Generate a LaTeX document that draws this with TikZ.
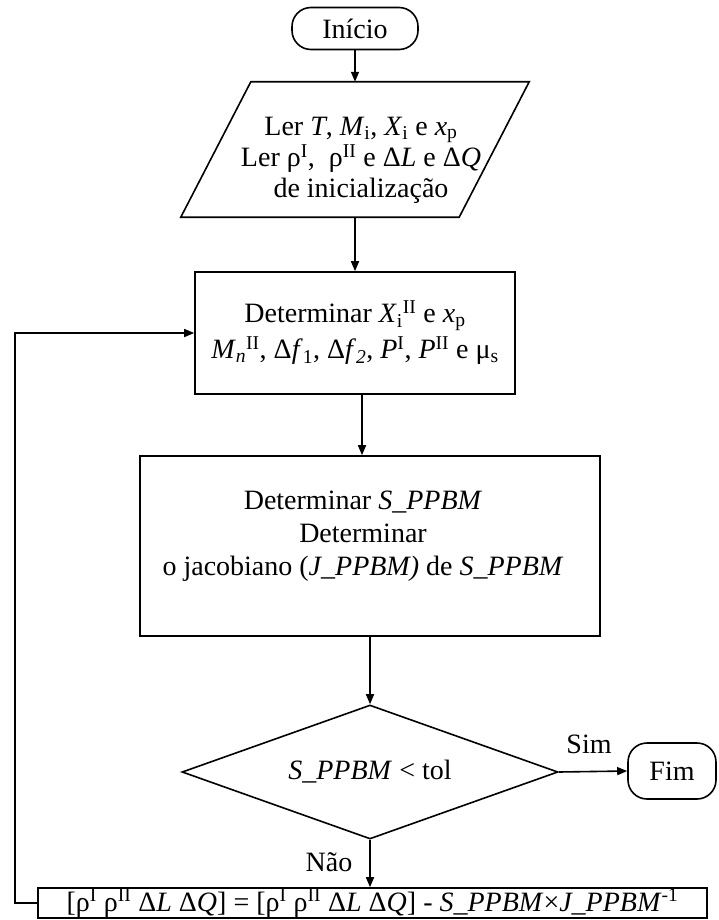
\documentclass[tikz,border=0pt]{standalone}
\usepackage{fontspec}
\setmainfont{Liberation Serif}
\usetikzlibrary{arrows.meta,shapes.geometric}

% text size used throughout the flowchart
\newcommand\flowfont{\fontsize{28}{34}\selectfont}

\tikzset{
  outline/.style={draw, line width=1.6pt},
  stepbox/.style={outline, rectangle, align=center, inner sep=0pt, font=\flowfont},
  terminal/.style={outline, rectangle, rounded corners=19pt, align=center, inner sep=0pt, font=\flowfont},
  decision/.style={outline, diamond, aspect=2.8, inner sep=0pt, font=\flowfont},
  flowarrow/.style={line width=1.6pt, -{Triangle[length=10pt,width=8pt]}},
  tag/.style={inner sep=0pt, font=\flowfont},
  blocktext/.style={inner sep=0pt, align=center, font=\flowfont}
}

\begin{document}
\begin{tikzpicture}[x=1pt,y=-1pt]
\useasboundingbox (0,0) rectangle (719,920);

% start
\node[terminal, minimum width=126pt, minimum height=42pt] (start) at (355,28.5) {Início};

% input: parallelogram around an empty frame node
\node[inner sep=0pt, minimum width=278pt, minimum height=135pt] (read) at (355,149.5) {};
\draw[outline, line join=miter]
  ([xshift=35pt]read.north west) -- ([xshift=35pt]read.north east) --
  ([xshift=-35pt]read.south east) -- ([xshift=-35pt]read.south west) -- cycle;
\node[blocktext, font=\fontsize{28}{31}\selectfont] (readtext) at (361,160)
  {Ler \textit{T}, \textit{M}\textsubscript{i}, \textit{X}\textsubscript{i} e \textit{x}\textsubscript{p}\\
   Ler ρ\textsuperscript{I},\ \ ρ\textsuperscript{II} e Δ\textit{L} e Δ\textit{Q}\\
   de inicialização};

% properties
\node[stepbox, font=\fontsize{28}{36}\selectfont, minimum width=320pt, minimum height=122pt] (det) at (355,333)
  {Determinar \textit{X}\textsubscript{i}\textsuperscript{II} e \textit{x}\textsubscript{p}\\
   \textit{M}\textsubscript{\textit{n}}\textsuperscript{II}, Δ\textit{f}\textsubscript{1}, Δ\textit{f}\textsubscript{\textit{2}},
   \textit{P}\textsuperscript{I}, \textit{P}\textsuperscript{II} e μ\textsubscript{s}};

% residual and jacobian
\node[outline, rectangle, minimum width=460pt, minimum height=180pt] (jac) at (370,546) {};
\node[blocktext, font=\fontsize{28}{33}\selectfont] (jactext) at (363,536)
  {Determinar \textit{S\_PPBM}\\
   Determinar\\
   o jacobiano (\textit{J\_PPBM)} de \textit{S\_PPBM}};

% convergence test
\node[decision, minimum width=376pt, minimum height=134pt] (dec) at (370,772)
  {\textit{S\_PPBM} < tol};

% end
\node[terminal, minimum width=88pt, minimum height=56pt] (fim) at (672,771) {Fim};

% Newton update
\node[stepbox, minimum width=669pt, minimum height=30pt] (upd) at (372.5,903)
  {[ρ\textsuperscript{I} ρ\textsuperscript{II} Δ\textit{L} Δ\textit{Q}] =
   [ρ\textsuperscript{I} ρ\textsuperscript{II} Δ\textit{L} Δ\textit{Q}] -
   \textit{S\_PPBM}×\textit{J\_PPBM}\textsuperscript{-1}};

% branch labels
\node[tag] (sim) at (589,744) {Sim};
\node[tag] (nao) at (329,862) {Não};

% connectors
\draw[flowarrow] (start.south) -- (read.north);
\draw[flowarrow] (read.south) -- (det.north);
\draw[flowarrow] ([xshift=7pt]det.south) -- ([xshift=7pt]det.south |- jac.north);
\draw[flowarrow] (jac.south) -- (dec.north);
\draw[flowarrow] (dec.east) -- (fim.west);
\draw[flowarrow] (dec.south) -- (dec.south |- upd.north);
\draw[flowarrow] (upd.west) -- ++(-22,0) |- (det.west);
\end{tikzpicture}
\end{document}
